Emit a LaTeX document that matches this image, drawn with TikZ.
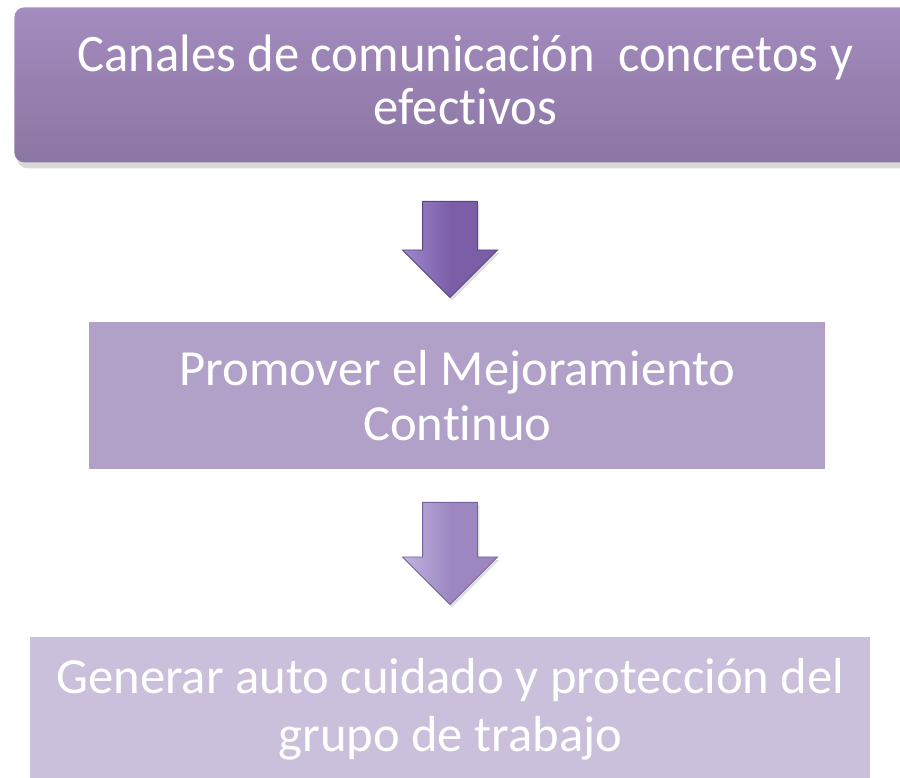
\documentclass[tikz,border=0pt]{standalone}
\usepackage{fontspec}
\setmainfont{Carlito}[Ligatures=NoCommon]
\newfontfamily\narrowfont{Carlito}[FakeStretch=0.96, Ligatures=NoCommon]
\usetikzlibrary{positioning,shapes.arrows,shadows}

\definecolor{canaltop}{HTML}{A38CBE}
\definecolor{canalbot}{HTML}{8C76A3}
\definecolor{mejora}{HTML}{B1A1C8}
\definecolor{cuidado}{HTML}{CBC0DB}
\definecolor{flechaA}{HTML}{7B5EA7}
\definecolor{flechaAlt}{HTML}{9F88CC}
\definecolor{flechaAdk}{HTML}{5A4385}
\definecolor{flechaB}{HTML}{9C87C0}
\definecolor{flechaBlt}{HTML}{C2B3E2}
\definecolor{flechaBdk}{HTML}{74629A}

\tikzset{
  etapa/.style={rectangle, anchor=north west, text=white, align=center, inner sep=0pt},
  bajada/.style={single arrow, shape border rotate=270, anchor=tail,
    text width=0pt, inner xsep=5.4mm, inner ysep=0pt,
    single arrow head extend=4mm, single arrow head indent=0pt, line width=0.5pt,
    drop shadow={opacity=0.25, shadow xshift=0.4mm, shadow yshift=-0.6mm}},
}

\begin{document}
\begin{tikzpicture}[x=0.2mm, y=-0.2mm]
\useasboundingbox (0,0) rectangle (900,778);
\clip (0,0) rectangle (900,778);

\node[etapa, rounded corners=2mm, top color=canaltop, bottom color=canalbot,
    minimum width=180.4mm, minimum height=31mm,
    drop shadow={opacity=0.3, shadow xshift=0.6mm, shadow yshift=-1.2mm},
    font=\narrowfont\fontsize{30}{30.2}\selectfont] (canales) at (14,7)
    {Canales de comunicación\ \ concretos y\\efectivos\rule[-6pt]{0pt}{6pt}};

\node[bajada, minimum height=19.2mm, left color=flechaAlt, right color=flechaA,
    middle color=flechaA, draw=flechaAdk] (flecha1) at (450,201) {};

\node[etapa, fill=mejora, minimum width=147.2mm, minimum height=29.4mm,
    font=\fontsize{28.8}{31.3}\selectfont] (mejora) at (89,322)
    {Promover el Mejoramiento\\Continuo};

\node[bajada, minimum height=20.4mm, left color=flechaBlt, right color=flechaB,
    middle color=flechaB, draw=flechaBdk] (flecha2) at (450,502) {};

\node[etapa, fill=cuidado, minimum width=168mm, minimum height=28.8mm,
    font=\fontsize{28.8}{33}\selectfont] (cuidado) at (30,637)
    {Generar auto cuidado y protección del\\grupo de trabajo};

\end{tikzpicture}
\end{document}
